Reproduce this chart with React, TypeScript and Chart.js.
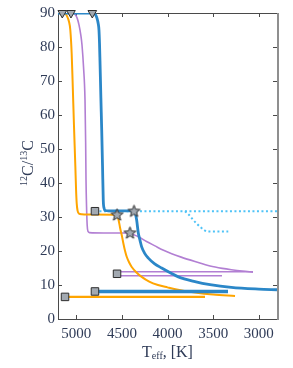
import React, { useEffect, useRef } from 'react';
import { Chart, registerables } from 'chart.js';
Chart.register(...registerables);

// ---- axis ticks ----
const X_TICKS = [5000, 4500, 4000, 3500, 3000];
const Y_TICKS = [0, 10, 20, 30, 40, 50, 60, 70, 80, 90];
const X_MIN = 2800;
const X_MAX = 5200;
const Y_MIN = 0;
const Y_MAX = 90;

// ---- series (Teff [K], 12C/13C) ----
const orangeT = [5200, 5150, 5120, 5100, 5080, 5065, 5050, 5040, 5025, 5010, 5002, 4995, 4985, 4970, 4940, 4800, 4553, 4535, 4521, 4500, 4484, 4465, 4447, 4420, 4392, 4340, 4283, 4200, 4104, 4000, 3885, 3700, 3500, 3260];
const orangeV = [90, 90, 89.8, 89, 87.5, 85, 78, 70, 57, 45, 38, 34, 31.8, 31, 30.8, 30.7, 30.6, 29, 27, 24.5, 22.3, 20, 18.3, 16.6, 15.3, 13.7, 12.4, 11, 10, 9.3, 8.6, 7.8, 7.2, 6.8];

const purpleT = [5200, 5058, 5030, 5014, 4990, 4970, 4950, 4937, 4920, 4904, 4897, 4893, 4886, 4880, 4872, 4855, 4700, 4411, 4370, 4320, 4230, 4137, 4050, 3954, 3850, 3699, 3600, 3534, 3400, 3300, 3180, 3063];
const purpleV = [90, 90, 89.9, 89.6, 88.5, 86.5, 83.5, 80.6, 74, 64.4, 52, 40.9, 32, 27.5, 25.8, 25.4, 25.3, 25.3, 24.8, 24.2, 22.8, 21.5, 20.3, 19.2, 18.2, 16.9, 16.1, 15.6, 14.9, 14.5, 14.1, 13.8];

const blueT = [5200, 4824, 4800, 4785, 4773, 4760, 4751, 4745, 4740, 4730, 4721, 4712, 4704, 4695, 4680, 4650, 4367, 4350, 4338, 4320, 4300, 4283, 4250, 4210, 4140, 4064, 3970, 3882, 3699, 3534, 3300, 3000, 2800];
const blueV = [90, 90, 89.8, 89.3, 88.5, 87, 85, 81, 76, 65, 55.6, 45, 35, 32.6, 31.9, 31.8, 31.8, 30.8, 29.1, 25.3, 23, 21.2, 19.3, 17.9, 16.2, 15, 13.6, 12.4, 11, 10.1, 9.3, 8.8, 8.6];

const dottedT = [4795, 2800];
const dottedV = [31.7, 31.7];
const dottedBranchT = [3808, 3760, 3717, 3670, 3625, 3590, 3553, 3334];
const dottedBranchV = [31.7, 30.5, 29.1, 27.8, 26.7, 26, 25.7, 25.7];

const orangeFlatT = [5123, 3589];
const orangeFlatV = [6.5, 6.5];
const blueFlatT = [4795, 3337];
const blueFlatV = [8.1, 8.1];
const purpleFlatAT = [4553, 3063];
const purpleFlatAV = [13.9, 13.9];
const purpleFlatBT = [4553, 3403];
const purpleFlatBV = [12.7, 12.7];

// ---- markers ----
const triangleT = [5153, 5058, 4824];
const triangleV = [90, 90, 90];
const squareT = [4795, 5123, 4795, 4553];
const squareV = [31.7, 6.5, 8.1, 13.3];
const starT = [4367, 4553, 4411];
const starV = [31.8, 30.7, 25.4];

const ORANGE = '#ffa500';
const PURPLE = '#b27fd3';
const BLUE = '#2b87c8';
const LIGHTBLUE = '#4fc3f7';
const MARK_FILL = '#a2a9b1';
const MARK_EDGE = '#2e2e2e';
const TEXT = '#2f3b57';
const SERIF = '"Liberation Serif", "DejaVu Serif", serif';

const pts = (xs: number[], ys: number[]) => xs.map((x, i) => ({ x, y: ys[i] }));

function makeStar(): HTMLCanvasElement {
  const c = document.createElement('canvas');
  c.width = 15;
  c.height = 15;
  const g = c.getContext('2d')!;
  const cx = 7.5, cy = 8, R = 6.3, r = 2.7;
  g.beginPath();
  for (let i = 0; i < 10; i++) {
    const a = -Math.PI / 2 + (i * Math.PI) / 5;
    const rad = i % 2 === 0 ? R : r;
    g.lineTo(cx + rad * Math.cos(a), cy + rad * Math.sin(a));
  }
  g.closePath();
  g.fillStyle = MARK_FILL;
  g.fill();
  g.strokeStyle = MARK_EDGE;
  g.lineWidth = 1;
  g.stroke();
  return c;
}

const framePlugin = {
  id: 'frameTicks',
  beforeDatasetsDraw(chart: any) {
    const { ctx, chartArea } = chart;
    const { left, right, top, bottom } = chartArea;
    const xs = chart.scales.x;
    const ys = chart.scales.y;
    ctx.save();
    ctx.strokeStyle = '#4a4a4a';
    ctx.lineWidth = 1;
    ctx.beginPath();
    for (const v of X_TICKS) {
      const px = Math.round(xs.getPixelForValue(v)) + 0.5;
      ctx.moveTo(px, bottom);
      ctx.lineTo(px, bottom - 4);
      ctx.moveTo(px, top);
      ctx.lineTo(px, top + 4);
    }
    for (const v of Y_TICKS) {
      const py = Math.round(ys.getPixelForValue(v)) + 0.5;
      ctx.moveTo(left, py);
      ctx.lineTo(left + 4, py);
      ctx.moveTo(right, py);
      ctx.lineTo(right - 4, py);
    }
    ctx.stroke();
    ctx.beginPath();
    ctx.moveTo(left + 0.5, top);
    ctx.lineTo(left + 0.5, bottom + 0.5);
    ctx.lineTo(right, bottom + 0.5);
    ctx.moveTo(left, top + 0.5);
    ctx.lineTo(right, top + 0.5);
    ctx.stroke();
    ctx.strokeStyle = '#8f8f8f';
    ctx.lineWidth = 2;
    ctx.beginPath();
    ctx.moveTo(right + 1, top);
    ctx.lineTo(right + 1, bottom + 1);
    ctx.stroke();
    ctx.restore();
  },
  afterDraw(chart: any) {
    const { ctx, chartArea } = chart;
    const { left, right, top, bottom } = chartArea;
    ctx.save();
    ctx.fillStyle = TEXT;
    ctx.textBaseline = 'alphabetic';
    ctx.textAlign = 'left';
    // x title: T_eff, [K]
    const big = `16px ${SERIF}`;
    const small = `10px ${SERIF}`;
    ctx.font = big;
    const wT = ctx.measureText('T').width;
    const wK = ctx.measureText(', [K]').width;
    ctx.font = small;
    const wE = ctx.measureText('eff').width;
    const x0 = (left + right) / 2 - (wT + wE + wK) / 2;
    const by = bottom + 38;
    ctx.font = big;
    ctx.fillText('T', x0, by);
    ctx.font = small;
    ctx.fillText('eff', x0 + wT, by + 2);
    ctx.font = big;
    ctx.fillText(', [K]', x0 + wT + wE, by);
    // y title: 12C/13C
    const parts: [string, boolean][] = [['12', true], ['C/', false], ['13', true], ['C', false]];
    let total = 0;
    for (const [t, sup] of parts) {
      ctx.font = sup ? small : big;
      total += ctx.measureText(t).width;
    }
    ctx.translate(33, (top + bottom) / 2 - 3);
    ctx.rotate(-Math.PI / 2);
    let cx = -total / 2;
    for (const [t, sup] of parts) {
      ctx.font = sup ? small : big;
      ctx.fillText(t, cx, sup ? -6 : 0);
      cx += ctx.measureText(t).width;
    }
    ctx.restore();
  },
};

export default function App() {
  const ref = useRef<HTMLCanvasElement | null>(null);
  useEffect(() => {
    if (!ref.current) return;
    const star = makeStar();
    const line = (xs: number[], ys: number[], color: string, width: number, order: number, extra: any = {}) => ({
      data: pts(xs, ys),
      borderColor: color,
      backgroundColor: color,
      borderWidth: width,
      pointRadius: 0,
      fill: false,
      cubicInterpolationMode: 'monotone',
      order,
      ...extra,
    });
    const marker = (xs: number[], ys: number[], style: any, radius: number, rotation = 0) => ({
      data: pts(xs, ys),
      showLine: false,
      pointStyle: style,
      pointRadius: radius,
      pointRotation: rotation,
      pointBackgroundColor: MARK_FILL,
      pointBorderColor: MARK_EDGE,
      pointBorderWidth: 1,
      clip: false,
      order: 0,
    });
    const chart = new Chart(ref.current, {
      type: 'line',
      data: {
        datasets: [
          marker(triangleT, triangleV, 'triangle', 5, 180),
          marker(squareT, squareV, 'rect', 5.3),
          marker(starT, starV, star, 7),
          line(dottedT, dottedV, LIGHTBLUE, 2, 5, { borderDash: [2, 2.5] }),
          line(dottedBranchT, dottedBranchV, LIGHTBLUE, 2, 5, { borderDash: [2, 2.5] }),
          line(purpleFlatAT, purpleFlatAV, PURPLE, 1.5, 4),
          line(purpleFlatBT, purpleFlatBV, PURPLE, 1.5, 4),
          line(purpleT, purpleV, PURPLE, 1.6, 3),
          line(orangeFlatT, orangeFlatV, ORANGE, 2.2, 3),
          line(orangeT, orangeV, ORANGE, 2, 2),
          line(blueFlatT, blueFlatV, BLUE, 3.6, 1),
          line(blueT, blueV, BLUE, 2.8, 1),
        ] as any,
      },
      options: {
        animation: false,
        responsive: true,
        maintainAspectRatio: false,
        layout: { padding: { left: 0, right: 16, top: 13, bottom: 0 } },
        plugins: { legend: { display: false }, tooltip: { enabled: false } },
        events: [],
        scales: {
          x: {
            type: 'linear',
            reverse: true,
            min: X_MIN,
            max: X_MAX,
            grid: { display: false, drawTicks: false },
            border: { display: false },
            ticks: {
              color: TEXT,
              padding: 6,
              maxRotation: 0,
              font: { family: SERIF, size: 15 },
              callback: (v: any) => String(v),
            },
            afterBuildTicks: (s: any) => {
              s.ticks = X_TICKS.map((v) => ({ value: v }));
            },
            afterFit: (s: any) => {
              s.height = 49;
              s.paddingLeft = 0;
              s.paddingRight = 0;
            },
          },
          y: {
            type: 'linear',
            min: Y_MIN,
            max: Y_MAX,
            grid: { display: false, drawTicks: false },
            border: { display: false },
            ticks: {
              color: TEXT,
              padding: 3,
              font: { family: SERIF, size: 15 },
              callback: (v: any) => String(v),
            },
            afterBuildTicks: (s: any) => {
              s.ticks = Y_TICKS.map((v) => ({ value: v }));
            },
            afterFit: (s: any) => {
              s.width = 58;
              s.paddingTop = 0;
              s.paddingBottom = 0;
            },
          },
        },
      } as any,
      plugins: [framePlugin],
    });
    return () => chart.destroy();
  }, []);
  return (
    <div style={{ position: 'fixed', left: 0, top: 0, width: 293, height: 368, background: '#fff' }}>
      <canvas ref={ref} />
    </div>
  );
}
